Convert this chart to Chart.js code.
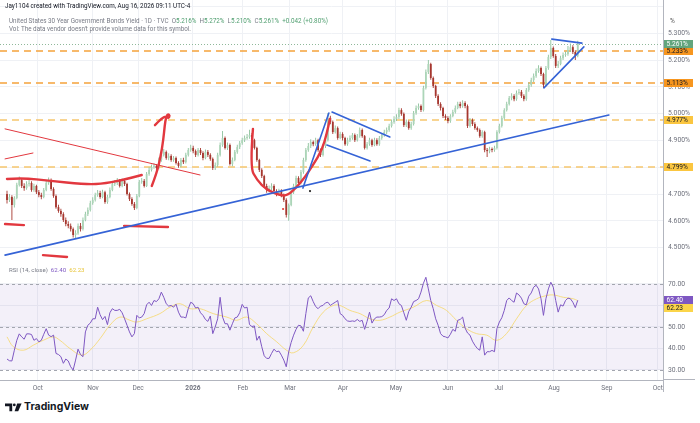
<!DOCTYPE html>
<html>
<head>
<meta charset="utf-8">
<title>US 30Y yield</title>
<script src="https://cdn.jsdelivr.net/npm/chart.js@4.4.1/dist/chart.umd.min.js"></script>
<style>
  html, body { margin: 0; padding: 0; background: #fff; }
  body { width: 700px; height: 423px; position: relative; overflow: hidden; font-family: Roboto, "Liberation Sans", sans-serif; }
  canvas { position: absolute; left: 0; }
  #priceChart { top: 0; }
  #rsiChart { top: 262px; }
  .txt { position: absolute; white-space: nowrap; line-height: 1; }
  .g { color: #4f9e6f; }
  .dim { color: #787b86; }
  .rule { position: absolute; background: #b2b5be; }
</style>
</head>
<body>
<canvas id="priceChart" width="700" height="262"></canvas>
<canvas id="rsiChart" width="700" height="133"></canvas>

<div class="txt" style="left:5px;top:3px;font-size:6.3px;color:#131722">Jay1104 created with TradingView.com, Aug 16, 2026 09:11 UTC-4</div>
<div class="txt dim" style="left:9px;top:18.4px;font-size:6.3px">United States 30 Year Government Bonds Yield · 1D · TVC&nbsp; O<span class="g">5.216%</span>&nbsp; H<span class="g">5.272%</span>&nbsp; L<span class="g">5.210%</span>&nbsp; C<span class="g">5.261%</span>&nbsp; <span class="g">+0.042 (+0.80%)</span></div>
<div class="txt dim" style="left:9px;top:26.2px;font-size:6.3px">Vol: The data vendor doesn't provide volume data for this symbol.</div>
<div class="txt" style="left:670px;top:18px;font-size:6.5px;color:#555">%</div>
<div class="txt dim" style="left:9px;top:267px;font-size:6.1px">RSI (14, close)&nbsp; <span style="color:#7e57c2">62.40</span>&nbsp; <span style="color:#e8c53a">62.23</span></div>
<div class="rule" style="left:663px;top:380px;width:1px;height:12px"></div>
<div class="rule" style="left:663px;top:379px;width:32px;height:1px"></div>

<svg style="position:absolute;left:5px;top:403px" width="17" height="9" viewBox="0 0 17 9">
  <path d="M0 0.5h7.2v7.8H4.4V3.2H0z" fill="#131722"/>
  <circle cx="9.3" cy="1.9" r="1.4" fill="#131722"/>
  <path d="M12.2 0.5h4.4l-3.4 7.8H9.6z" fill="#131722"/>
</svg>
<div class="txt" style="left:24px;top:402px;font-size:10.5px;font-weight:700;color:#131722;font-family:Inter,'Open Sans',sans-serif">TradingView</div>

<script>
// daily bars, Sep 15 2025 .. Aug 14 2026 (index = bar number)
const opens = [
  4.700, 4.678, 4.689, 4.659, 4.685, 4.734, 4.752, 4.730, 4.722, 4.737,
  4.741, 4.715, 4.730, 4.707, 4.696, 4.689, 4.715, 4.741, 4.752, 4.719,
  4.693, 4.651, 4.637, 4.625, 4.603, 4.588, 4.581, 4.569, 4.547, 4.554,
  4.581, 4.569, 4.603, 4.625, 4.640, 4.666, 4.678, 4.696, 4.704, 4.689,
  4.707, 4.670, 4.689, 4.715, 4.737, 4.741, 4.749, 4.730, 4.749, 4.737,
  4.700, 4.681, 4.663, 4.648, 4.693, 4.745, 4.749, 4.730, 4.775, 4.790,
  4.801, 4.805, 4.797, 4.827, 4.846, 4.857, 4.834, 4.842, 4.827, 4.834,
  4.816, 4.805, 4.827, 4.819, 4.846, 4.864, 4.872, 4.860, 4.846, 4.864,
  4.853, 4.834, 4.857, 4.846, 4.831, 4.797, 4.808, 4.846, 4.883, 4.909,
  4.872, 4.883, 4.812, 4.827, 4.857, 4.875, 4.890, 4.901, 4.909, 4.913,
  4.920, 4.901, 4.872, 4.827, 4.790, 4.767, 4.730, 4.715, 4.722, 4.730,
  4.711, 4.700, 4.711, 4.696, 4.678, 4.622, 4.659, 4.707, 4.730, 4.760,
  4.741, 4.782, 4.827, 4.864, 4.879, 4.894, 4.886, 4.901, 4.864, 4.846,
  4.879, 4.901, 4.984, 4.969, 4.931, 4.946, 4.909, 4.924, 4.909, 4.886,
  4.901, 4.909, 4.920, 4.901, 4.916, 4.939, 4.916, 4.872, 4.886, 4.901,
  4.883, 4.901, 4.886, 4.909, 4.920, 4.931, 4.939, 4.954, 4.969, 4.980,
  4.987, 5.013, 4.999, 4.957, 4.969, 4.946, 4.961, 5.002, 5.021, 5.028,
  5.013, 5.096, 5.155, 5.185, 5.133, 5.103, 5.066, 5.036, 5.021, 4.991,
  4.984, 4.972, 4.991, 5.006, 5.021, 5.036, 5.028, 5.040, 5.028, 4.954,
  4.976, 4.961, 4.946, 4.939, 4.916, 4.931, 4.864, 4.860, 4.868, 4.864,
  4.872, 4.931, 4.954, 4.984, 5.013, 5.036, 5.058, 5.066, 5.054, 5.077,
  5.081, 5.066, 5.054, 5.088, 5.107, 5.125, 5.140, 5.159, 5.170, 5.148,
  5.107, 5.170, 5.211, 5.245, 5.215, 5.178, 5.185, 5.207, 5.219, 5.222,
  5.237, 5.248, 5.230, 5.216
];
const highs = [
  4.712, 4.700, 4.695, 4.692, 4.742, 4.765, 4.760, 4.740, 4.748, 4.752,
  4.748, 4.738, 4.735, 4.715, 4.705, 4.722, 4.750, 4.762, 4.758, 4.725,
  4.698, 4.660, 4.645, 4.632, 4.612, 4.598, 4.590, 4.575, 4.565, 4.590,
  4.592, 4.612, 4.634, 4.650, 4.675, 4.688, 4.705, 4.715, 4.712, 4.716,
  4.712, 4.697, 4.724, 4.746, 4.752, 4.760, 4.756, 4.758, 4.756, 4.742,
  4.706, 4.688, 4.670, 4.700, 4.752, 4.760, 4.756, 4.782, 4.800, 4.810,
  4.815, 4.812, 4.836, 4.856, 4.868, 4.862, 4.852, 4.848, 4.842, 4.840,
  4.822, 4.834, 4.835, 4.854, 4.872, 4.884, 4.880, 4.866, 4.872, 4.872,
  4.860, 4.866, 4.864, 4.852, 4.836, 4.818, 4.854, 4.892, 4.935, 4.915,
  4.892, 4.888, 4.836, 4.864, 4.884, 4.898, 4.910, 4.918, 4.924, 4.940,
  4.928, 4.906, 4.876, 4.832, 4.796, 4.772, 4.738, 4.732, 4.740, 4.736,
  4.718, 4.720, 4.718, 4.702, 4.684, 4.665, 4.715, 4.738, 4.768, 4.766,
  4.790, 4.835, 4.872, 4.890, 4.904, 4.900, 4.910, 4.906, 4.870, 4.886,
  4.910, 5.002, 4.992, 4.974, 4.956, 4.952, 4.932, 4.930, 4.914, 4.910,
  4.918, 4.928, 4.926, 4.924, 4.948, 4.944, 4.920, 4.894, 4.910, 4.906,
  4.910, 4.908, 4.916, 4.928, 4.940, 4.948, 4.962, 4.978, 4.990, 4.998,
  5.022, 5.020, 5.004, 4.978, 4.974, 4.970, 5.010, 5.030, 5.038, 5.034,
  5.104, 5.165, 5.200, 5.190, 5.138, 5.108, 5.072, 5.042, 5.026, 4.998,
  4.990, 4.998, 5.014, 5.030, 5.044, 5.044, 5.050, 5.046, 5.034, 4.984,
  4.982, 4.968, 4.952, 4.944, 4.938, 4.936, 4.872, 4.876, 4.874, 4.880,
  4.938, 4.962, 4.992, 5.020, 5.044, 5.066, 5.076, 5.072, 5.086, 5.092,
  5.088, 5.072, 5.096, 5.116, 5.134, 5.150, 5.168, 5.180, 5.176, 5.152,
  5.178, 5.220, 5.275, 5.250, 5.222, 5.196, 5.216, 5.228, 5.232, 5.252,
  5.262, 5.255, 5.236, 5.272
];
const lows = [
  4.665, 4.670, 4.603, 4.650, 4.680, 4.728, 4.722, 4.712, 4.716, 4.728,
  4.708, 4.708, 4.700, 4.688, 4.680, 4.684, 4.710, 4.735, 4.712, 4.686,
  4.645, 4.630, 4.615, 4.596, 4.580, 4.572, 4.560, 4.538, 4.536, 4.548,
  4.560, 4.564, 4.598, 4.618, 4.635, 4.660, 4.672, 4.690, 4.682, 4.684,
  4.664, 4.664, 4.684, 4.710, 4.730, 4.734, 4.724, 4.725, 4.730, 4.694,
  4.674, 4.656, 4.640, 4.643, 4.688, 4.738, 4.724, 4.726, 4.768, 4.784,
  4.794, 4.788, 4.792, 4.820, 4.840, 4.828, 4.826, 4.820, 4.820, 4.810,
  4.798, 4.800, 4.812, 4.814, 4.840, 4.858, 4.852, 4.838, 4.840, 4.846,
  4.826, 4.830, 4.838, 4.824, 4.790, 4.790, 4.802, 4.840, 4.876, 4.866,
  4.864, 4.806, 4.804, 4.822, 4.850, 4.868, 4.884, 4.894, 4.902, 4.906,
  4.894, 4.866, 4.820, 4.782, 4.760, 4.722, 4.705, 4.706, 4.714, 4.704,
  4.692, 4.694, 4.688, 4.670, 4.612, 4.600, 4.654, 4.700, 4.724, 4.734,
  4.736, 4.776, 4.820, 4.858, 4.872, 4.878, 4.880, 4.858, 4.838, 4.840,
  4.872, 4.896, 4.960, 4.924, 4.926, 4.902, 4.904, 4.900, 4.880, 4.880,
  4.894, 4.902, 4.894, 4.896, 4.910, 4.910, 4.866, 4.866, 4.880, 4.876,
  4.878, 4.880, 4.880, 4.902, 4.914, 4.924, 4.932, 4.948, 4.962, 4.972,
  4.980, 4.992, 4.950, 4.950, 4.940, 4.940, 4.956, 4.996, 5.014, 5.006,
  5.008, 5.090, 5.148, 5.126, 5.096, 5.058, 5.028, 5.012, 4.984, 4.976,
  4.964, 4.966, 4.986, 5.000, 5.016, 5.020, 5.022, 5.020, 4.946, 4.948,
  4.954, 4.940, 4.932, 4.910, 4.910, 4.856, 4.838, 4.852, 4.856, 4.858,
  4.866, 4.926, 4.948, 4.978, 5.008, 5.030, 5.050, 5.046, 5.048, 5.070,
  5.058, 5.046, 5.048, 5.082, 5.100, 5.118, 5.134, 5.152, 5.140, 5.096,
  5.100, 5.164, 5.204, 5.208, 5.170, 5.170, 5.180, 5.200, 5.212, 5.216,
  5.230, 5.222, 5.200, 5.210
];
const closes = [
  4.678, 4.689, 4.659, 4.685, 4.734, 4.752, 4.730, 4.722, 4.737, 4.741,
  4.715, 4.730, 4.707, 4.696, 4.689, 4.715, 4.741, 4.752, 4.719, 4.693,
  4.651, 4.637, 4.625, 4.603, 4.588, 4.581, 4.569, 4.547, 4.554, 4.581,
  4.569, 4.603, 4.625, 4.640, 4.666, 4.678, 4.696, 4.704, 4.689, 4.707,
  4.670, 4.689, 4.715, 4.737, 4.741, 4.749, 4.730, 4.749, 4.737, 4.700,
  4.681, 4.663, 4.648, 4.693, 4.745, 4.749, 4.730, 4.775, 4.790, 4.801,
  4.805, 4.797, 4.827, 4.846, 4.857, 4.834, 4.842, 4.827, 4.834, 4.816,
  4.805, 4.827, 4.819, 4.846, 4.864, 4.872, 4.860, 4.846, 4.864, 4.853,
  4.834, 4.857, 4.846, 4.831, 4.797, 4.808, 4.846, 4.883, 4.909, 4.872,
  4.883, 4.812, 4.827, 4.857, 4.875, 4.890, 4.901, 4.909, 4.913, 4.920,
  4.901, 4.872, 4.827, 4.790, 4.767, 4.730, 4.715, 4.722, 4.730, 4.711,
  4.700, 4.711, 4.696, 4.678, 4.622, 4.659, 4.707, 4.730, 4.760, 4.741,
  4.782, 4.827, 4.864, 4.879, 4.894, 4.886, 4.901, 4.864, 4.846, 4.879,
  4.901, 4.984, 4.969, 4.931, 4.946, 4.909, 4.924, 4.909, 4.886, 4.901,
  4.909, 4.920, 4.901, 4.916, 4.939, 4.916, 4.872, 4.886, 4.901, 4.883,
  4.901, 4.886, 4.909, 4.920, 4.931, 4.939, 4.954, 4.969, 4.980, 4.987,
  5.013, 4.999, 4.957, 4.969, 4.946, 4.961, 5.002, 5.021, 5.028, 5.013,
  5.096, 5.155, 5.185, 5.133, 5.103, 5.066, 5.036, 5.021, 4.991, 4.984,
  4.972, 4.991, 5.006, 5.021, 5.036, 5.028, 5.040, 5.028, 4.954, 4.976,
  4.961, 4.946, 4.939, 4.916, 4.931, 4.864, 4.860, 4.868, 4.864, 4.872,
  4.931, 4.954, 4.984, 5.013, 5.036, 5.058, 5.066, 5.054, 5.077, 5.081,
  5.066, 5.054, 5.088, 5.107, 5.125, 5.140, 5.159, 5.170, 5.148, 5.107,
  5.170, 5.211, 5.245, 5.215, 5.178, 5.185, 5.207, 5.219, 5.222, 5.237,
  5.248, 5.230, 5.216, 5.261
];
const rsiValues = [
  35.1, 34.3, 34.2, 39.2, 43.8, 46.8, 45.4, 44.3, 46.8, 46.8,
  46.5, 43.8, 44.6, 43.1, 43.8, 46.6, 49.2, 46.2, 45.5, 46.2,
  37.7, 37.2, 36.2, 33.1, 35.1, 34.2, 31.5, 30.0, 34.6, 39.7,
  37.2, 36.2, 47.7, 50.8, 51.8, 53.8, 53.8, 59.2, 55.7, 53.4,
  54.9, 51.1, 56.6, 58.5, 57.7, 57.7, 58.2, 56.6, 53.8, 50.8,
  47.7, 45.4, 46.9, 55.4, 54.2, 54.6, 56.2, 60.3, 61.5, 60.0,
  62.3, 61.8, 63.1, 66.2, 63.8, 60.8, 59.7, 60.0, 59.2, 60.6,
  56.9, 54.6, 54.6, 54.2, 58.5, 61.5, 60.8, 58.8, 59.2, 56.6,
  55.4, 53.5, 52.6, 55.1, 46.9, 50.0, 53.8, 63.8, 54.6, 51.5,
  51.5, 48.5, 51.5, 54.2, 54.6, 56.6, 60.5, 58.8, 59.2, 51.1,
  50.2, 50.5, 43.8, 45.8, 40.8, 36.6, 35.4, 35.4, 37.7, 39.7,
  38.5, 38.8, 36.9, 34.6, 31.5, 38.5, 42.8, 46.2, 48.9, 50.8,
  50.5, 48.0, 56.2, 63.5, 64.5, 61.8, 59.5, 58.5, 59.7, 60.0,
  61.2, 61.5, 60.0, 60.8, 61.5, 62.3, 56.2, 55.4, 53.8, 52.8,
  52.6, 52.8, 52.6, 53.5, 52.6, 53.1, 48.9, 52.6, 56.9, 51.8,
  53.8, 54.6, 54.6, 54.8, 55.7, 57.7, 58.8, 63.1, 62.3, 63.1,
  60.8, 60.0, 56.6, 53.1, 57.2, 59.2, 61.8, 62.3, 63.1, 66.2,
  70.3, 73.1, 67.7, 62.3, 58.5, 53.8, 50.8, 46.9, 45.7, 45.4,
  44.9, 46.6, 48.9, 48.0, 53.1, 53.5, 54.6, 49.5, 47.2, 46.2,
  43.4, 41.5, 40.0, 39.2, 45.4, 36.9, 38.5, 38.5, 39.1, 38.5,
  49.2, 52.3, 54.3, 57.7, 62.3, 63.5, 62.3, 61.5, 65.8, 64.9,
  63.4, 60.8, 60.3, 64.3, 65.8, 68.5, 69.4, 67.7, 63.1, 55.4,
  63.1, 67.7, 70.8, 68.5, 62.3, 56.9, 60.3, 59.7, 62.3, 63.4,
  63.1, 61.5, 59.0, 62.4
];
// RSI-based moving average, read at these bar positions
const rsiMaIdx = [
  0, 2.6, 6.7, 10.7, 14.8, 18.9, 21.6, 25.7, 30.5, 33.9,
  38.0, 42.0, 46.1, 50.2, 52.9, 57.0, 62.4, 66.5, 70.6, 74.7,
  78.8, 84.2, 89.7, 93.7, 97.8, 101.9, 106.0, 110.1, 114.1, 116.9,
  121.0, 125.0, 129.1, 133.2, 135.9, 140.0, 144.1, 148.2, 152.2, 156.3,
  160.4, 165.9, 171.3, 175.4, 179.4, 183.5, 187.6, 191.7, 195.8, 199.9,
  203.9, 208.0, 212.1, 216.2, 220.3, 223.0, 227.1, 231.2, 233
];
const rsiMaValues = [
  45.4, 40.8, 39.2, 41.5, 43.8, 45.4, 43.8, 40.0, 36.9, 39.2,
  44.6, 50.8, 54.6, 53.1, 52.3, 53.8, 56.2, 59.2, 60.8, 58.5,
  58.5, 56.2, 54.6, 53.1, 54.6, 51.5, 46.9, 43.1, 39.2, 38.0,
  41.5, 50.0, 56.9, 60.0, 60.0, 57.7, 56.2, 53.8, 53.1, 54.6,
  56.9, 59.2, 62.3, 60.0, 57.7, 53.1, 49.2, 46.9, 46.2, 43.8,
  46.9, 53.8, 60.0, 63.1, 64.6, 64.9, 63.8, 63.1, 62.23
];

const monthTicks = [12.6, 35.1, 53.5, 75.9, 96.3, 115.5, 137.1, 158.8, 180, 200.8, 223.3, 244.9, 265.7];
const monthLabels = ['Oct', 'Nov', 'Dec', '2026', 'Feb', 'Mar', 'Apr', 'May', 'Jun', 'Jul', 'Aug', 'Sep', 'Oct'];
const priceTicks = [4.5, 4.6, 4.7, 4.8, 4.9, 5.0, 5.1, 5.2, 5.3, 5.4];
const rsiTicks = [30, 40, 50, 60, 70];

const levels = [5.233, 5.113, 4.977, 4.799];
const levelLine = ['#f5a33b', '#f5a33b', '#f6c66d', '#f6c66d'];
const levelTag = ['#f7961f', '#f7961f', '#fbc640', '#fbc640'];
const lastPrice = 5.261;
const lastRsi = 62.40;
const lastRsiMa = 62.23;

// hand drawn annotations, in [bar, yield]
const blueLines = [
  [[-0.8, 4.472], [245.7, 4.995]],
  [[120.8, 4.722], [131.4, 5.002]],
  [[132.7, 5.006], [156.3, 4.913]],
  [[130.6, 4.883], [148.2, 4.823]],
  [[219.2, 5.096], [235.5, 5.249]],
  [[222.4, 5.278], [234.7, 5.263]]
];
const redThin = [
  [[-0.8, 4.943], [78.8, 4.771]],
  [[-0.8, 4.831], [10.6, 4.853]]
];
const redMarks = [
  [[0, 4.756], [6.5, 4.760], [17.6, 4.749], [31.0, 4.737], [38.0, 4.737], [47.3, 4.752], [55.0, 4.771]],
  [[-0.8, 4.588], [6.9, 4.584]],
  [[14.7, 4.472], [24.5, 4.465]],
  [[47.8, 4.581], [65.7, 4.577]],
  [[59.1, 4.730], [61.1, 4.778], [62.7, 4.839], [63.8, 4.901], [64.4, 4.957], [64.9, 4.986], [65.7, 4.999],
   [66.5, 4.993], [65.9, 4.982], [64.9, 4.991], [63.1, 4.982], [60.4, 4.957]],
  [[100.4, 4.943], [99.2, 4.801], [102.0, 4.752], [106.1, 4.715], [111.4, 4.696], [114.3, 4.693],
   [118.4, 4.726], [121.6, 4.763], [124.9, 4.808], [128.6, 4.864], [130.6, 4.928], [131.8, 4.980]]
];
const dots = [[112.7, 4.644, '#e53935'], [123.7, 4.711, '#222']];

const X_MIN = -2.86, X_MAX = 267.8;
const GREEN_BODY = '#acd5b8', GREEN_WICK = '#8cc19c', RED = '#a6372f';
const GRID = '#eff1f5';
const TICK_FONT = { family: 'Roboto', size: 6.8 };

const bars = closes.map((c, i) => i);
const isUp = bars.map(i => closes[i] >= opens[i]);

function line(ctx, x1, y1, x2, y2) {
  ctx.beginPath();
  ctx.moveTo(x1, y1);
  ctx.lineTo(x2, y2);
  ctx.stroke();
}

function strokePath(chart, pts, smooth) {
  const { x, y } = chart.scales;
  const ctx = chart.ctx;
  const p = pts.map(([i, v]) => [x.getPixelForValue(i), y.getPixelForValue(v)]);
  ctx.beginPath();
  ctx.moveTo(p[0][0], p[0][1]);
  if (smooth && p.length > 2) {
    for (let k = 1; k < p.length - 1; k++) {
      const mx = (p[k][0] + p[k + 1][0]) / 2, my = (p[k][1] + p[k + 1][1]) / 2;
      ctx.quadraticCurveTo(p[k][0], p[k][1], mx, my);
    }
  }
  ctx.lineTo(p[p.length - 1][0], p[p.length - 1][1]);
  ctx.stroke();
}

function tag(ctx, x, yc, bg, fg, text) {
  ctx.fillStyle = bg;
  ctx.fillRect(x, Math.round(yc - 4), 29, 8);
  ctx.fillStyle = fg;
  ctx.font = '6.6px Roboto';
  ctx.textAlign = 'left';
  ctx.textBaseline = 'middle';
  ctx.fillText(text, x + 2.5, Math.round(yc - 4) + 4.3);
}

const priceOverlay = {
  id: 'priceOverlay',
  beforeDatasetsDraw(chart) {
    const { ctx, chartArea: a, scales: { y } } = chart;
    ctx.save();
    let py = Math.round(y.getPixelForValue(lastPrice)) + 0.5;
    ctx.strokeStyle = '#8fb89a';
    ctx.lineWidth = 1;
    ctx.setLineDash([1, 2]);
    line(ctx, a.left, py, a.right, py);
    ctx.lineWidth = 1.5;
    ctx.setLineDash([7, 5]);
    levels.forEach((v, k) => {
      py = Math.round(y.getPixelForValue(v));
      ctx.strokeStyle = levelLine[k];
      line(ctx, a.left, py, a.right, py);
    });
    ctx.restore();
  },
  afterDatasetsDraw(chart) {
    const { ctx, chartArea: a, scales: { x, y } } = chart;
    ctx.save();
    ctx.beginPath();
    ctx.rect(a.left, a.top, a.width, a.height);
    ctx.clip();
    ctx.lineCap = 'round';
    ctx.lineJoin = 'round';
    ctx.strokeStyle = '#e2383f';
    ctx.lineWidth = 1;
    redThin.forEach(p => strokePath(chart, p, false));
    ctx.lineWidth = 2.4;
    redMarks.forEach(p => strokePath(chart, p, true));
    ctx.strokeStyle = '#3563d6';
    ctx.lineWidth = 1.6;
    blueLines.forEach(p => strokePath(chart, p, false));
    dots.forEach(([i, v, c]) => {
      ctx.fillStyle = c;
      ctx.beginPath();
      ctx.arc(x.getPixelForValue(i), y.getPixelForValue(v), 1.1, 0, Math.PI * 2);
      ctx.fill();
    });
    ctx.restore();
  },
  afterDraw(chart) {
    const { ctx, chartArea: a, scales: { y } } = chart;
    ctx.save();
    levels.forEach((v, k) => tag(ctx, a.right + 1, y.getPixelForValue(v), levelTag[k], '#131722', v.toFixed(3) + '%'));
    tag(ctx, a.right + 1, y.getPixelForValue(lastPrice), '#62a57d', '#fff', lastPrice.toFixed(3) + '%');
    ctx.restore();
  }
};

const rsiOverlay = {
  id: 'rsiOverlay',
  beforeDatasetsDraw(chart) {
    const { ctx, chartArea: a, scales: { y } } = chart;
    const y70 = y.getPixelForValue(70), y30 = y.getPixelForValue(30);
    ctx.save();
    ctx.fillStyle = 'rgba(126,87,194,0.09)';
    ctx.fillRect(a.left, y70, a.width, y30 - y70);
    ctx.strokeStyle = '#a3a6af';
    ctx.lineWidth = 1;
    ctx.setLineDash([3, 3]);
    [70, 50, 30].forEach(v => {
      const py = Math.round(y.getPixelForValue(v)) + 0.5;
      line(ctx, a.left, py, a.right, py);
    });
    ctx.restore();
  },
  afterDraw(chart) {
    const { ctx, chartArea: a, scales: { y } } = chart;
    ctx.save();
    const p1 = y.getPixelForValue(lastRsi);
    tag(ctx, a.right + 1, p1, '#7e57c2', '#fff', lastRsi.toFixed(2));
    tag(ctx, a.right + 1, Math.max(y.getPixelForValue(lastRsiMa), p1 + 8), '#fbd54a', '#131722', lastRsiMa.toFixed(2));
    ctx.restore();
  }
};

function noPad(s) {
  s.paddingTop = 0;
  s.paddingBottom = 0;
  s.paddingLeft = 0;
  s.paddingRight = 0;
}

new Chart(document.getElementById('priceChart'), {
  type: 'bar',
  data: {
    datasets: [
      {
        label: 'wick',
        data: bars.map(i => ({ x: i, y: [lows[i], highs[i]] })),
        backgroundColor: bars.map(i => isUp[i] ? GREEN_WICK : RED),
        barThickness: 0.9,
        grouped: false,
        inflateAmount: 0,
        order: 2
      },
      {
        label: 'body',
        data: bars.map(i => ({ x: i, y: [opens[i], closes[i]] })),
        backgroundColor: bars.map(i => isUp[i] ? GREEN_BODY : RED),
        barThickness: 1.8,
        minBarLength: 1,
        grouped: false,
        inflateAmount: 0,
        order: 1
      }
    ]
  },
  options: {
    responsive: false,
    animation: false,
    layout: { padding: 0 },
    plugins: { legend: { display: false }, tooltip: { enabled: false } },
    scales: {
      x: {
        type: 'linear',
        min: X_MIN,
        max: X_MAX,
        offset: false,
        grid: { color: GRID, drawTicks: false, offset: false },
        border: { display: false },
        ticks: { display: false },
        afterBuildTicks: s => { s.ticks = monthTicks.map(v => ({ value: v })); },
        afterFit: s => { s.height = 0; noPad(s); }
      },
      y: {
        position: 'right',
        min: 4.4463,
        max: 5.4239,
        grid: { color: GRID, drawTicks: false },
        border: { color: '#b2b5be' },
        ticks: {
          padding: 5,
          color: '#6f727d',
          font: TICK_FONT,
          callback: v => (v > 5.35 ? '' : v.toFixed(3) + '%')
        },
        afterBuildTicks: s => { s.ticks = priceTicks.map(v => ({ value: v })); },
        afterFit: s => { s.width = 37; noPad(s); }
      }
    }
  },
  plugins: [priceOverlay]
});

new Chart(document.getElementById('rsiChart'), {
  type: 'line',
  data: {
    datasets: [
      {
        label: 'RSI',
        data: rsiValues.map((v, i) => ({ x: i, y: v })),
        borderColor: '#7e57c2',
        borderWidth: 1,
        pointRadius: 0,
        tension: 0,
        order: 1
      },
      {
        label: 'RSI MA',
        data: rsiMaIdx.map((v, k) => ({ x: v, y: rsiMaValues[k] })),
        borderColor: 'rgba(246,214,96,0.75)',
        borderWidth: 1,
        pointRadius: 0,
        tension: 0.4,
        order: 2
      }
    ]
  },
  options: {
    responsive: false,
    animation: false,
    layout: { padding: 0 },
    plugins: { legend: { display: false }, tooltip: { enabled: false } },
    scales: {
      x: {
        type: 'linear',
        min: X_MIN,
        max: X_MAX,
        grid: { color: GRID, drawTicks: false },
        border: { color: '#b2b5be' },
        ticks: {
          padding: 4,
          autoSkip: false,
          maxRotation: 0,
          color: '#6f727d',
          font: c => ({ family: 'Roboto', size: 6.6, weight: monthLabels[c.index] === '2026' ? 'bold' : 'normal' }),
          callback: (v, k) => monthLabels[k]
        },
        afterBuildTicks: s => { s.ticks = monthTicks.map(v => ({ value: v })); },
        afterFit: s => { s.height = 15; noPad(s); }
      },
      y: {
        position: 'right',
        min: 25.35,
        max: 80.2,
        grid: { color: GRID, drawTicks: false },
        border: { color: '#b2b5be' },
        ticks: {
          padding: 5,
          color: '#6f727d',
          font: TICK_FONT,
          callback: v => v.toFixed(2)
        },
        afterBuildTicks: s => { s.ticks = rsiTicks.map(v => ({ value: v })); },
        afterFit: s => { s.width = 37; noPad(s); }
      }
    }
  },
  plugins: [rsiOverlay]
});
</script>
</body>
</html>
